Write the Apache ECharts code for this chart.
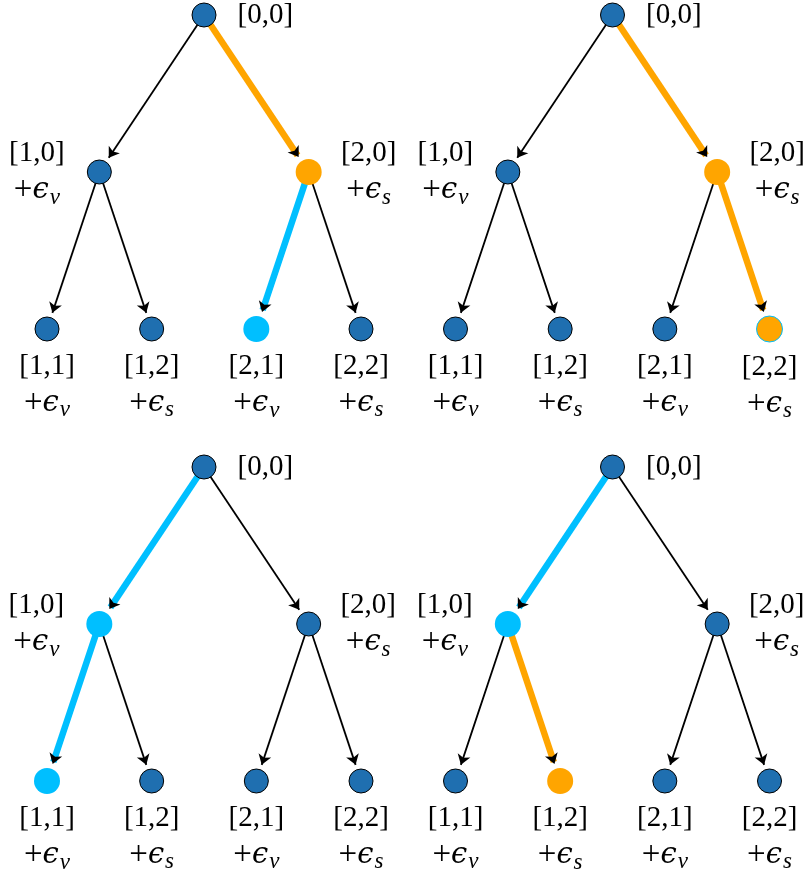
<!DOCTYPE html>
<html><head><meta charset="utf-8">
<script src="https://cdn.jsdelivr.net/npm/echarts@6/dist/echarts.min.js"></script>
<style>html,body{margin:0;padding:0;background:#fff}#c{width:809px;height:875px}</style>
</head><body><div id="c"></div><script>
// ---- data ----
const nodeNames = ['[0,0]','[1,0]','[2,0]','[1,1]','[1,2]','[2,1]','[2,2]'];
const nodeNoise = ['', 'v','s','v','s','v','s'];
const nodeLevel = [0,1,1,2,2,2,2];
const nodeSlot  = [1.5,0.5,2.5,0,1,2,3];
const edgeSource = [0,0,1,1,2,2];
const edgeTarget = [1,2,3,4,5,6];
// highlighted edges per panel (edge index -> colour key)
const panelEdgeHighlight = [
  {1:'orange',4:'cyan'},
  {1:'orange',5:'orange'},
  {0:'cyan',2:'cyan'},
  {0:'cyan',3:'orange'}
];
const panelNodeRing = [{}, {6:'cyan'}, {}, {}];

// ---- styles ----
const COLORS = {blue:'#1f6fb0', orange:'#ffa500', cyan:'#00bfff'};
const gridPos = [[47,15],[455.5,15],[47,467],[455.5,467]];
const R = 12, RH = 13, ARROW = 10;
const FF = 'Liberation Serif';
const rich = {
  b:{fontFamily:FF, fontSize:29, color:'#000', lineHeight:37},
  p:{fontFamily:FF, fontSize:33, color:'#000', lineHeight:37},
  e:{fontFamily:'DejaVu Serif', fontStyle:'italic', fontSize:29, color:'#000', lineHeight:37},
  s:{fontFamily:FF, fontStyle:'italic', fontSize:23, color:'#000', lineHeight:23, padding:[14,0,0,1]}
};
function labelFor(i){
  const lvl = nodeLevel[i];
  const text = nodeNoise[i]
    ? '{b|'+nodeNames[i]+'}\n{p|+}{e|\u03F5}{s|'+nodeNoise[i]+'}'
    : '{b|'+nodeNames[i]+'}';
  let pos, dist, align;
  if (lvl===0){pos='right'; dist=21; align='left';}
  else if (lvl===1){
    const isLeft = nodeSlot[i] < nodeSlot[0];
    pos = isLeft ? 'left':'right'; dist = isLeft ? 50 : 47; align='center';
  }
  else {pos='bottom'; dist=6; align='center';}
  return {show:true, position:pos, distance:dist, align:align, formatter:text, rich:rich};
}

const grids=[], xAxes=[], yAxes=[], series=[];
for (let p=0;p<4;p++){
  grids.push({left:gridPos[p][0], top:gridPos[p][1], width:314, height:314});
  xAxes.push({type:'value', gridIndex:p, min:0, max:3, show:false});
  yAxes.push({type:'value', gridIndex:p, min:0, max:2, inverse:true, show:false});
  const hl = panelEdgeHighlight[p];
  const nodeCol = nodeNames.map(()=>null);
  Object.keys(hl).forEach(e=>{ nodeCol[edgeTarget[e]] = hl[e]; });
  const rad = i => nodeCol[i] ? RH : R;

  // 1. coloured thick path edges (underlay)
  series.push({
    type:'graph', coordinateSystem:'cartesian2d', xAxisIndex:p, yAxisIndex:p, z:1, silent:true,
    animation:false,
    edgeSymbol:['none','arrow'], edgeSymbolSize:[0,0.5],
    itemStyle:{opacity:0}, label:{show:false},
    data: nodeNames.map((n,i)=>({name:n, value:[nodeSlot[i], nodeLevel[i]], symbolSize:2*(rad(i)+ARROW-3)})),
    links: Object.keys(hl).map(e=>({source:edgeSource[e], target:edgeTarget[e],
      lineStyle:{color:COLORS[hl[e]], width:6.5, opacity:1, curveness:0}}))
  });
  // 2. black edges with arrowheads
  series.push({
    type:'graph', coordinateSystem:'cartesian2d', xAxisIndex:p, yAxisIndex:p, z:2, silent:true,
    animation:false,
    edgeSymbol:['none','arrow'], edgeSymbolSize:[0,ARROW],
    itemStyle:{opacity:0}, label:{show:false},
    data: nodeNames.map((n,i)=>({name:n, value:[nodeSlot[i], nodeLevel[i]], symbolSize:2*(rad(i)+ARROW/2)})),
    links: edgeSource.map((s,e)=>({source:s, target:edgeTarget[e],
      lineStyle:{color:'#000', width: hl[e] ? 0 : 1.8, opacity:1, curveness:0}}))
  });
  // 3. visible nodes with labels
  series.push({
    type:'scatter', xAxisIndex:p, yAxisIndex:p, z:3, silent:true, animation:false,
    data: nodeNames.map((n,i)=>{
      const c = nodeCol[i];
      const ring = panelNodeRing[p][i];
      return {
        value:[nodeSlot[i], nodeLevel[i]],
        symbolSize: 2*rad(i),
        itemStyle: c
          ? {color:COLORS[c], borderColor: ring ? COLORS[ring] : COLORS[c], borderWidth: ring ? 1 : 0, opacity:1}
          : {color:COLORS.blue, borderColor:'#000', borderWidth:1, opacity:1},
        label: labelFor(i)
      };
    })
  });
}

const chart = echarts.init(document.getElementById('c'), null, {renderer:'canvas'});
chart.setOption({
  animation:false,
  backgroundColor:'#fff',
  grid:grids, xAxis:xAxes, yAxis:yAxes, series:series
});
</script></body></html>
